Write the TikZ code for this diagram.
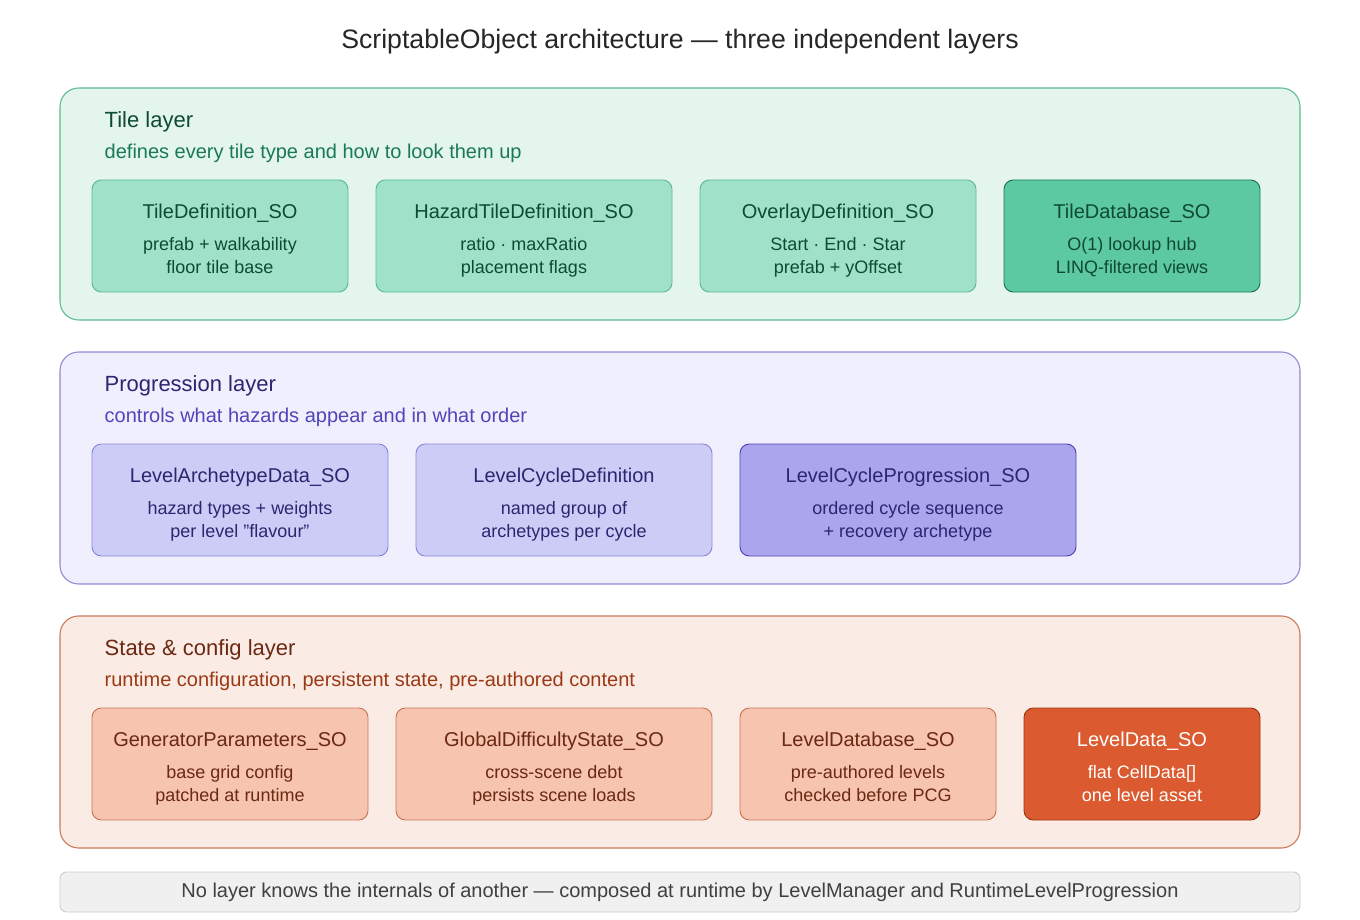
\documentclass[tikz,border=0pt]{standalone}
\usepackage{fontspec}
\setmainfont{Liberation Sans}
\usepackage{tikz}

\definecolor{tlbg}{HTML}{E3F5EC}\definecolor{tlbd}{HTML}{5DBB8F}
\definecolor{tlbox}{HTML}{A0E2C8}\definecolor{tldark}{HTML}{5DC9A0}
\definecolor{tltx}{HTML}{0F4A33}\definecolor{tlsub}{HTML}{1A7A55}
\definecolor{pgbg}{HTML}{EFEFFD}\definecolor{pgbd}{HTML}{8C88D8}
\definecolor{pgbox}{HTML}{CDCCF6}\definecolor{pgdark}{HTML}{AAA5EC}
\definecolor{pgtx}{HTML}{2C2570}\definecolor{pgsub}{HTML}{5046B8}
\definecolor{stbg}{HTML}{FBEBE5}\definecolor{stbd}{HTML}{C9785A}
\definecolor{stbox}{HTML}{F6C4AF}\definecolor{stdark}{HTML}{DC5A30}
\definecolor{sttx}{HTML}{6B2812}\definecolor{stsub}{HTML}{9A3A15}

\tikzset{
  layer/.style={rounded corners=14pt, line width=0.8pt},
  so/.style={rounded corners=7pt, line width=0.7pt},
  sotitle/.style={font=\fontsize{15}{18}\selectfont},
  soline/.style={font=\fontsize{13.5}{17}\selectfont, align=center},
}
% box: x1,y1,x2,fill,border,text,name,title,line1,line2
\newcommand{\sobox}[9]{%
  \draw[so, fill=#4, draw=#5] (#1,#2) rectangle (#3,#2+112);
  \node[sotitle, text=#6] (#7) at ({(#1+#3)/2},#2+33) {#8};
  \node[soline, text=#6, anchor=north] (#7l) at ({(#1+#3)/2},#2+53) {#9};
}

\begin{document}
\begin{tikzpicture}[x=0.75pt,y=-0.75pt]
\useasboundingbox (0,0) rectangle (1360,920);
\node[font=\fontsize{20}{24}\selectfont, text=black!85] (title) at (680,42) {ScriptableObject architecture — three independent layers};

% tile layer
\draw[layer, fill=tlbg, draw=tlbd] (60,88) rectangle (1300,320);
\node[anchor=west, font=\fontsize{16.5}{20}\selectfont, text=tltx] (tile) at (100,122) {Tile layer};
\node[anchor=west, font=\fontsize{15}{18}\selectfont, text=tlsub] (tilesub) at (100,153) {defines every tile type and how to look them up};
\sobox{92}{180}{348}{tlbox}{tlbd}{tltx}{tdef}{TileDefinition\_SO}{prefab + walkability\\floor tile base}
\sobox{376}{180}{672}{tlbox}{tlbd}{tltx}{htdef}{HazardTileDefinition\_SO}{ratio · maxRatio\\placement flags}
\sobox{700}{180}{976}{tlbox}{tlbd}{tltx}{odef}{OverlayDefinition\_SO}{Start · End · Star\\prefab + yOffset}
\sobox{1004}{180}{1260}{tldark}{tlsub}{tltx}{tdb}{TileDatabase\_SO}{O(1) lookup hub\\LINQ-filtered views}

% progression layer
\draw[layer, fill=pgbg, draw=pgbd] (60,352) rectangle (1300,584);
\node[anchor=west, font=\fontsize{16.5}{20}\selectfont, text=pgtx] (prog) at (100,386) {Progression layer};
\node[anchor=west, font=\fontsize{15}{18}\selectfont, text=pgsub] (progsub) at (100,417) {controls what hazards appear and in what order};
\sobox{92}{444}{388}{pgbox}{pgbd}{pgtx}{arch}{LevelArchetypeData\_SO}{hazard types + weights\\per level "flavour"}
\sobox{416}{444}{712}{pgbox}{pgbd}{pgtx}{cdef}{LevelCycleDefinition}{named group of\\archetypes per cycle}
\sobox{740}{444}{1076}{pgdark}{pgsub}{pgtx}{cprog}{LevelCycleProgression\_SO}{ordered cycle sequence\\+ recovery archetype}

% state & config layer
\draw[layer, fill=stbg, draw=stbd] (60,616) rectangle (1300,848);
\node[anchor=west, font=\fontsize{16.5}{20}\selectfont, text=sttx] (state) at (100,650) {State \& config layer};
\node[anchor=west, font=\fontsize{15}{18}\selectfont, text=stsub] (statesub) at (100,681) {runtime configuration, persistent state, pre-authored content};
\sobox{92}{708}{368}{stbox}{stbd}{sttx}{gen}{GeneratorParameters\_SO}{base grid config\\patched at runtime}
\sobox{396}{708}{712}{stbox}{stbd}{sttx}{gds}{GlobalDifficultyState\_SO}{cross-scene debt\\persists scene loads}
\sobox{740}{708}{996}{stbox}{stbd}{sttx}{ldb}{LevelDatabase\_SO}{pre-authored levels\\checked before PCG}
\sobox{1024}{708}{1260}{stdark}{stsub}{white}{ldat}{LevelData\_SO}{flat CellData[]\\one level asset}

% footer
\draw[rounded corners=5pt, fill=black!6, draw=black!20, line width=0.7pt] (60,872) rectangle (1300,912);
\node[font=\fontsize{15}{18}\selectfont, text=black!75] (foot) at (680,892) {No layer knows the internals of another — composed at runtime by LevelManager and RuntimeLevelProgression};
\end{tikzpicture}
\end{document}
